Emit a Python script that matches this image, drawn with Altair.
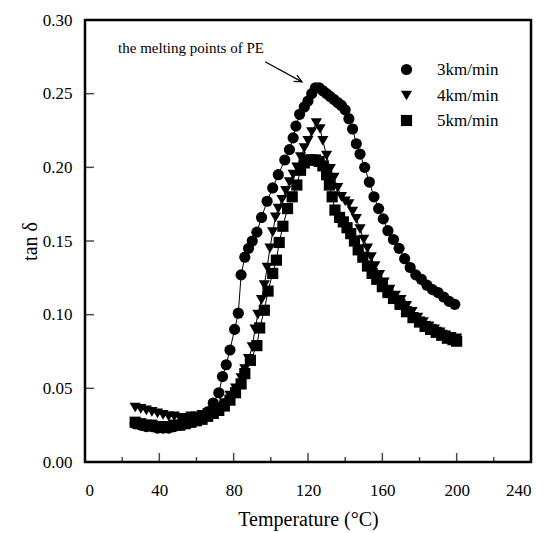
import altair as alt
import pandas as pd

# ---- data ----
series_names = ["3km/min", "4km/min", "5km/min"]

t3 = [27, 30, 33, 36, 39, 42, 45, 48, 51, 54, 57, 60, 63, 66, 69, 72, 74, 76, 78, 80.5, 82.5,
      84, 86, 88, 90, 92.5, 95, 98, 101, 104, 107.5, 110, 112, 113.5, 115.5, 118, 120, 122, 124,
      126, 128, 130, 132, 134, 136, 138, 140, 142, 144, 146, 148, 150.5, 153, 155.5, 158, 160.5,
      163, 166, 169, 172, 175, 178, 181, 184, 187, 190, 193, 196, 199]
v3 = [0.026, 0.025, 0.024, 0.024, 0.023, 0.023, 0.023, 0.024, 0.025, 0.026, 0.027, 0.029, 0.031,
      0.034, 0.040, 0.047, 0.058, 0.066, 0.076, 0.090, 0.101, 0.127, 0.139, 0.145, 0.150, 0.156,
      0.166, 0.177, 0.186, 0.195, 0.205, 0.212, 0.220, 0.228, 0.236, 0.241, 0.245, 0.250, 0.254,
      0.254, 0.252, 0.250, 0.248, 0.246, 0.244, 0.242, 0.239, 0.233, 0.226, 0.216, 0.209, 0.200,
      0.190, 0.180, 0.172, 0.165, 0.157, 0.151, 0.145, 0.138, 0.132, 0.127, 0.124, 0.120, 0.117,
      0.115, 0.112, 0.109, 0.107]

t4 = [27, 30, 33, 36, 39, 42, 45, 48, 51, 54, 57, 60, 63, 66, 69, 72, 75, 78, 81, 84, 86, 88, 90,
      91.5, 93, 95, 96.5, 98, 99.5, 101, 102.5, 104, 106, 108, 110, 112, 114, 116, 118, 120, 122,
      124.5, 126.5, 128, 130, 132, 134, 136, 138, 140, 142, 144, 146, 148, 150, 152, 154, 156,
      158.5, 161, 164, 167, 170, 173, 176, 179, 182, 185, 188, 191, 194, 197, 200]
v4 = [0.037, 0.036, 0.035, 0.034, 0.033, 0.032, 0.031, 0.031, 0.030, 0.030, 0.031, 0.031, 0.032,
      0.033, 0.035, 0.037, 0.040, 0.045, 0.050, 0.057, 0.063, 0.070, 0.078, 0.090, 0.100, 0.110,
      0.120, 0.132, 0.145, 0.156, 0.166, 0.172, 0.178, 0.184, 0.190, 0.195, 0.200, 0.207, 0.213,
      0.218, 0.224, 0.230, 0.226, 0.218, 0.208, 0.199, 0.193, 0.186, 0.180, 0.177, 0.175, 0.170,
      0.165, 0.158, 0.151, 0.145, 0.139, 0.133, 0.127, 0.122, 0.117, 0.113, 0.110, 0.106, 0.102,
      0.098, 0.095, 0.092, 0.090, 0.088, 0.086, 0.085, 0.084]

t5 = [27, 30, 33, 36, 39, 42, 45, 48, 51, 54, 57, 60, 63, 66, 69, 72, 75, 78, 81, 84, 86, 89,
      92.5, 94, 96.5, 98.5, 101, 103, 104.5, 106.5, 109, 111.5, 114, 116, 118, 120, 122, 124, 126,
      128, 130, 131.5, 133, 134.5, 137, 139, 141, 143, 145, 147, 149.5, 152, 154.5, 157, 160, 163,
      166, 169.5, 173, 176.5, 180, 183, 186, 189, 192, 195, 198, 200]
v5 = [0.027, 0.026, 0.025, 0.025, 0.024, 0.024, 0.024, 0.025, 0.025, 0.026, 0.027, 0.028, 0.029,
      0.031, 0.033, 0.035, 0.038, 0.042, 0.047, 0.053, 0.060, 0.069, 0.079, 0.091, 0.103, 0.116,
      0.128, 0.137, 0.149, 0.160, 0.172, 0.180, 0.188, 0.198, 0.203, 0.205, 0.205, 0.205, 0.204,
      0.201, 0.195, 0.188, 0.180, 0.171, 0.166, 0.163, 0.159, 0.155, 0.150, 0.144, 0.139, 0.133,
      0.128, 0.124, 0.119, 0.115, 0.111, 0.107, 0.102, 0.098, 0.095, 0.092, 0.090, 0.088, 0.086,
      0.084, 0.083, 0.082]

x_major = [0, 40, 80, 120, 160, 200, 240]
x_minor = [20, 60, 100, 140, 180, 220]
y_major = [0.05, 0.10, 0.15, 0.20, 0.25]

note_text = ["the melting points of PE"]
note_xy = [17.8, 0.2777]
arrow_x = [96.9, 116.8]
arrow_y = [0.2716, 0.2580]

# ---- tables ----
rows = []
for name, ts, vs in zip(series_names, [t3, t4, t5], [v3, v4, v5]):
    rows += [{"T": t, "v": v, "s": name} for t, v in zip(ts, vs)]
df = pd.DataFrame(rows)

FONT = "Liberation Serif"
xs = alt.Scale(domain=[0, 240], nice=False, zero=False)
ys = alt.Scale(domain=[0, 0.30], nice=False, zero=False)

x_enc = alt.X("T:Q", scale=xs, axis=alt.Axis(
    values=x_major, format="d", title="Temperature (°C)", ticks=False, tickSize=0,
    domain=False, grid=False, labelPadding=20, labelFontSize=17, labelFont=FONT,
    labelColor="black", titleFont=FONT, titleFontSize=20, titleFontWeight="normal",
    titleColor="black", titleBaseline="alphabetic", titleY=63))
y_enc = alt.Y("v:Q", scale=ys, axis=alt.Axis(
    values=[0.0] + y_major + [0.30], format=".2f", title="tan δ", ticks=False, tickSize=0,
    domain=False, grid=False, labelPadding=13, labelFontSize=17, labelFont=FONT,
    labelColor="black", titleFont=FONT, titleFontSize=20, titleFontWeight="normal",
    titleColor="black", titleBaseline="middle", titleX=-55))

base = alt.Chart(df)

lines = base.mark_line(color="black", strokeWidth=1).encode(
    x=x_enc, y=y_enc, detail="s:N")

points = base.mark_point(filled=True, size=125, opacity=1, color="black").encode(
    x="T:Q", y="v:Q",
    shape=alt.Shape("s:N", scale=alt.Scale(domain=series_names,
                                           range=["circle", "triangle-down", "square"]),
                    legend=alt.Legend(title=None, orient="none", legendX=313, legendY=41,
                                      labelFont=FONT, labelFontSize=17, labelColor="black",
                                      symbolSize=125, symbolFillColor="black",
                                      symbolStrokeColor="black", symbolType="circle",
                                      labelOffset=22, rowPadding=7, padding=0)))

xmaj = alt.Chart(pd.DataFrame({"t": x_major})).mark_tick(
    orient="vertical", size=9, thickness=1.5, yOffset=-4.5, color="black").encode(
    x=alt.X("t:Q", scale=xs), y=alt.datum(0, scale=ys))
xmin = alt.Chart(pd.DataFrame({"t": x_minor})).mark_tick(
    orient="vertical", size=5, thickness=1.5, yOffset=-2.5, color="black").encode(
    x=alt.X("t:Q", scale=xs), y=alt.datum(0, scale=ys))
ymaj = alt.Chart(pd.DataFrame({"v": y_major})).mark_tick(
    orient="horizontal", size=9, thickness=1.5, xOffset=4.5, color="black").encode(
    y=alt.Y("v:Q", scale=ys), x=alt.datum(0, scale=xs))

note = alt.Chart(pd.DataFrame({"T": [note_xy[0]], "v": [note_xy[1]], "txt": note_text})).mark_text(
    align="left", baseline="alphabetic", font=FONT, fontSize=15, color="black").encode(
    x=alt.X("T:Q", scale=xs), y=alt.Y("v:Q", scale=ys), text="txt:N")

arrow_line = alt.Chart(pd.DataFrame({"T": arrow_x, "v": arrow_y})).mark_line(
    color="black", strokeWidth=1.2).encode(x=alt.X("T:Q", scale=xs), y=alt.Y("v:Q", scale=ys))
arrow_head = alt.Chart(pd.DataFrame({"T": [arrow_x[1]], "v": [arrow_y[1]]})).mark_point(
    shape="M-2,-0.9L0,0L-2,0.9", filled=False, size=60, angle=28, strokeWidth=1.2,
    color="black", opacity=1).encode(x=alt.X("T:Q", scale=xs), y=alt.Y("v:Q", scale=ys))

chart = alt.layer(lines, points, xmaj, xmin, ymaj, note, arrow_line, arrow_head).properties(
    width=446, height=442,
    autosize=alt.AutoSizeParams(type="none"),
    padding={"left": 85, "top": 20, "right": 17, "bottom": 71},
    background="white",
).configure_view(stroke="black", strokeWidth=2.5)

chart.save("out.html", embed_options={"renderer": "svg", "actions": False})
